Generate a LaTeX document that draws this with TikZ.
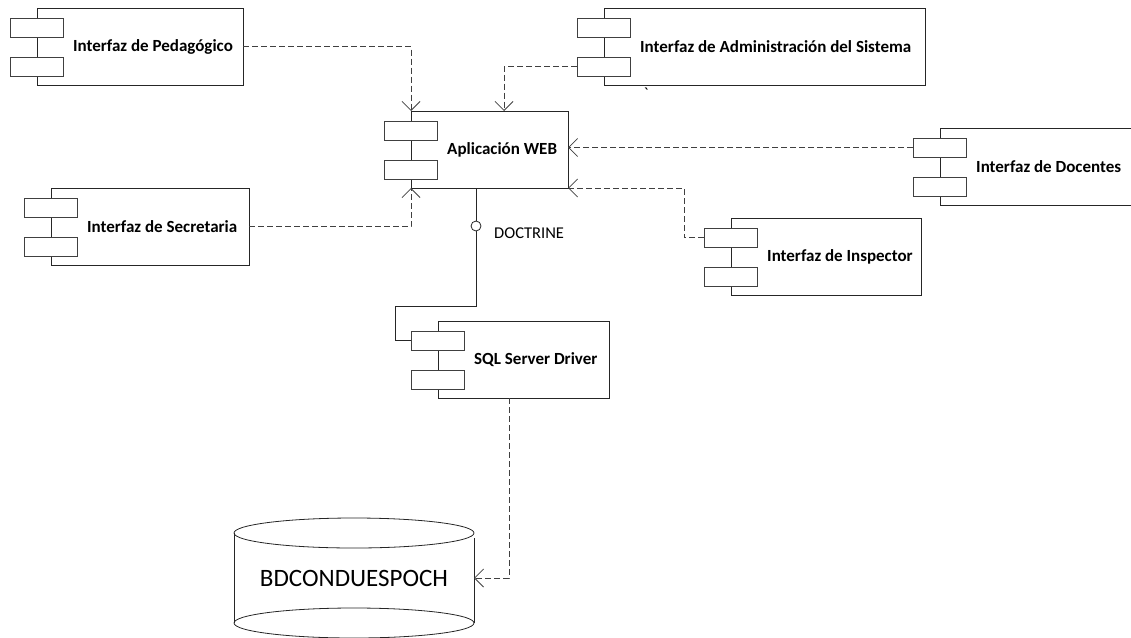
\documentclass[tikz,border=0pt]{standalone}
\usepackage{fontspec}
\setmainfont{Carlito}
\usetikzlibrary{arrows.meta}
\tikzset{
  box/.style={draw=black!85, line width=0.8pt, fill=white, inner sep=0pt, outer sep=0pt},
  port/.style={draw=black!75, line width=0.8pt, fill=white, minimum width=53pt, minimum height=19pt, inner sep=0pt, outer sep=0pt},
  lbl/.style={font=\bfseries\fontsize{17}{19}\selectfont, inner sep=0pt},
  dep/.style={draw=black!75, line width=0.8pt, dash pattern=on 6pt off 3pt, -{Straight Barb[length=9pt,width=18pt,line width=0.8pt]}},
  wire/.style={draw=black!85, line width=0.8pt}
}
\newcommand\umlcomp[5]{%
  \node[box, minimum width=#4pt, minimum height=77pt, anchor=north west] (#1) at (#2,#3) {};
  \node[port, anchor=north west] (#1-p1) at ({#2-27},{#3+10}) {};
  \node[port, anchor=north west] (#1-p2) at ({#2-27},{#3+49}) {};
  \node[lbl, anchor=west] (#1-t) at ({#2+36},{#3+38.5}) {#5};
}
\begin{document}
\begin{tikzpicture}[x=1pt,y=-1pt]
\useasboundingbox (0,0) rectangle (1131,637);
\umlcomp{ped}{37}{8}{206}{Interfaz de Pedagógico}
\umlcomp{adm}{604}{8}{321}{Interfaz de Administración del Sistema}
\umlcomp{app}{411}{111}{157}{Aplicación WEB}
\umlcomp{doc}{940}{128}{195}{Interfaz de Docentes}
\umlcomp{sec}{51}{188}{198}{Interfaz de Secretaria}
\umlcomp{insp}{731}{218}{190}{Interfaz de Inspector}
\umlcomp{sql}{438}{321}{171}{SQL Server Driver}
\node[font=\fontsize{17}{19}\selectfont, inner sep=0pt] (tick) at (646,94) {\textasciigrave};
% database
\draw[wire] (234,533) -- (234,623);
\draw[wire] (474,538) -- (474,623);
\draw[wire] (354,533) ellipse [x radius=120, y radius=15];
\draw[wire] (354,623) ellipse [x radius=120, y radius=15];
\node[font=\fontsize{25}{28}\selectfont, inner sep=0pt] (db) at (354,578) {BDCONDUESPOCH};
\coordinate (dbR) at (474,578);
% dependencies
\draw[dep] (ped.east) -| (app.north west);
\draw[dep] (adm-p2.west) -| ([xshift=93pt]app.north west);
\draw[dep] (doc-p1.west) -- (app.east |- doc-p1.west);
\draw[dep] (insp-p1.west) -| ([xshift=116pt]app.south east) -- (app.south east);
\draw[dep] (sec.east) -| (app.south west);
\draw[dep] ([xshift=71pt]sql.south west) |- (dbR);
% interface wire
\draw[wire] ([xshift=65pt]app.south west) |- ([xshift=-16pt,yshift=34pt]sql-p1.west) |- (sql-p1.west);
\node[circle, draw=black!85, line width=0.8pt, fill=white, minimum size=10pt, inner sep=0pt] (iface) at (476,226) {};
\node[font=\fontsize{16.5}{18}\selectfont, anchor=west, inner sep=0pt] (doctr) at (494,233) {DOCTRINE};
\end{tikzpicture}
\end{document}
